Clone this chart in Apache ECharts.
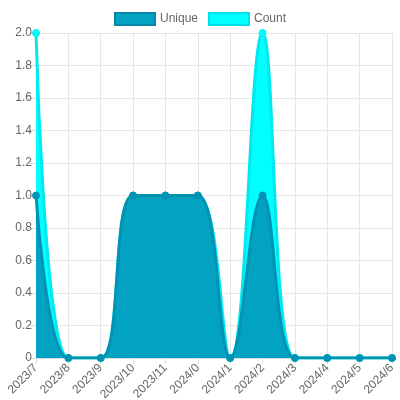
<!DOCTYPE html>
<html lang="en">
<head>
    <meta charset="UTF-8">
    <title>Unique-Count</title>
    <script src="https://cdnjs.cloudflare.com/ajax/libs/echarts/6.0.0/echarts.min.js"></script>
    <style>
        html, body { margin: 0; padding: 0; background: #fff; }
    </style>
</head>
<body>
    <div id="main" style="width: 400px;height:400px;"></div>
    <script>
        var months = ['2023/7', '2023/8', '2023/9', '2023/10', '2023/11', '2024/0',
            '2024/1', '2024/2', '2024/3', '2024/4', '2024/5', '2024/6'];
        var uniqueData = [1, 0, 0, 1, 1, 1, 0, 1, 0, 0, 0, 0];
        var countData = [2, 0, 0, 1, 1, 1, 0, 2, 0, 0, 0, 0];

        var chart1 = echarts.init(document.getElementById('main'));

        var option = {
            animation: false,
            textStyle: { fontFamily: 'Liberation Sans, Arial, sans-serif' },
            legend: {
                top: 7,
                itemWidth: 40,
                itemHeight: 12,
                itemGap: 10,
                icon: 'rect',
                textStyle: { color: '#666', fontSize: 12 },
                data: [
                    { name: 'Unique', itemStyle: { color: '#02a2c2', borderColor: '#0289a8', borderWidth: 2 } },
                    { name: 'Count', itemStyle: { color: '#00ffff', borderColor: '#00e0ea', borderWidth: 2 } }
                ]
            },
            grid: { left: 36, right: 8, top: 33, bottom: 42, outerBoundsMode: 'none' },
            xAxis: {
                type: 'category',
                data: months,
                boundaryGap: false,
                axisLine: { lineStyle: { color: '#ddd' } },
                axisTick: { show: true, alignWithLabel: true, length: 6, lineStyle: { color: '#ddd' } },
                axisLabel: { rotate: 45, color: '#666', fontSize: 12, margin: 8 },
                splitLine: { show: true, lineStyle: { color: '#e6e6e6' } }
            },
            yAxis: {
                type: 'value',
                min: 0,
                max: 2,
                interval: 0.2,
                axisLine: { show: true, lineStyle: { color: '#ddd' } },
                axisTick: { show: true, length: 8, lineStyle: { color: '#ddd' } },
                axisLabel: {
                    color: '#666', fontSize: 12, margin: 4,
                    formatter: function (v) { return v === 0 ? '0' : v.toFixed(1); }
                },
                splitLine: { lineStyle: { color: '#e6e6e6' } }
            },
            series: [
                {
                    name: 'Count',
                    type: 'line',
                    data: countData,
                    smooth: 0.4,
                    z: 2,
                    symbol: 'circle',
                    symbolSize: 7,
                    itemStyle: { color: '#00ffff', borderColor: '#00e8f0' },
                    lineStyle: { color: '#00e8f0', width: 3 },
                    areaStyle: { color: '#00ffff', opacity: 1 }
                },
                {
                    name: 'Unique',
                    type: 'line',
                    data: uniqueData,
                    smooth: 0.4,
                    z: 3,
                    symbol: 'circle',
                    symbolSize: 7,
                    itemStyle: { color: '#0292b2', borderColor: '#0292b2' },
                    lineStyle: { color: '#0292b2', width: 3 },
                    areaStyle: { color: '#02a2c2', opacity: 1 }
                }
            ]
        };

        chart1.setOption(option);
    </script>
</body>
</html>
